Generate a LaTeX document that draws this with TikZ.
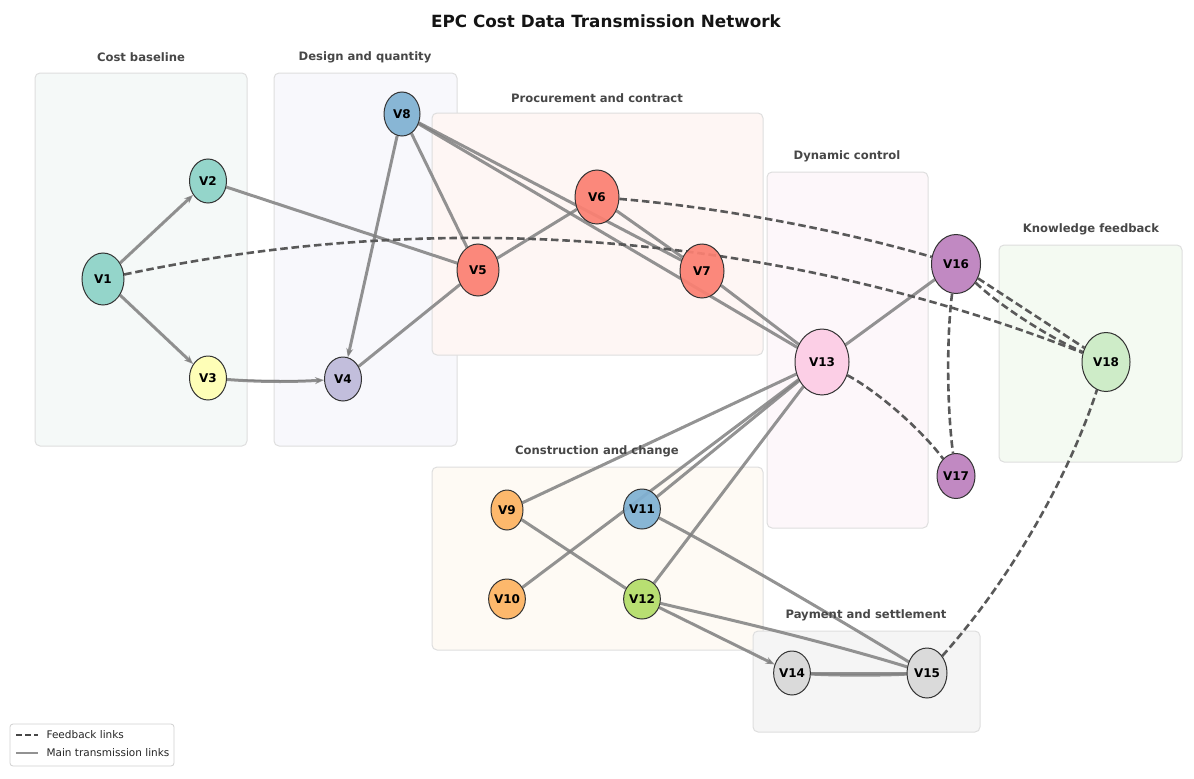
\documentclass[tikz,border=0pt]{standalone}
\usepackage{fontspec}
\setmainfont{DejaVu Sans}
\usetikzlibrary{shapes.geometric,arrows.meta}
\pgfdeclarelayer{boxes}
\pgfdeclarelayer{links}
\pgfsetlayers{boxes,links,main}
\definecolor{cteal}{HTML}{8DD3C7}
\definecolor{cyell}{HTML}{FFFFB3}
\definecolor{clav}{HTML}{BEBADA}
\definecolor{csal}{HTML}{FB8072}
\definecolor{cblue}{HTML}{80B1D3}
\definecolor{corng}{HTML}{FDB462}
\definecolor{cgrn}{HTML}{B3DE69}
\definecolor{cpink}{HTML}{FCCDE5}
\definecolor{cgray}{HTML}{D9D9D9}
\definecolor{cpurp}{HTML}{BC80BD}
\definecolor{clgrn}{HTML}{CCEBC5}
\definecolor{gcost}{HTML}{F5F9F8}
\definecolor{gdes}{HTML}{F8F8FC}
\definecolor{gproc}{HTML}{FEF6F4}
\definecolor{gdyn}{HTML}{FDF7FA}
\definecolor{gknow}{HTML}{F4FAF2}
\definecolor{gcons}{HTML}{FEFAF4}
\definecolor{gpay}{HTML}{F5F5F5}
\begin{document}
\begin{tikzpicture}[x=1pt,y=-1pt,
  vn/.style={ellipse, draw=black!80, line width=1pt, inner sep=0pt,
    font=\bfseries\fontsize{12}{13}\selectfont, fill opacity=0.93, text opacity=1},
  grp/.style={draw=black!13, line width=1pt, rounded corners=5pt},
  glabel/.style={font=\bfseries\fontsize{11.6}{13}\selectfont, text=black!72},
  mainlink/.style={draw=black!50, line width=3pt, draw opacity=0.85},
  fblink/.style={draw=black!65, line width=2.6pt, dash pattern=on 7.5pt off 3.8pt},
  arr/.style={-{Stealth[length=9pt,width=7pt]}, fill=black!50},
  legtext/.style={anchor=west, font=\fontsize{10.5}{12}\selectfont, text=black!85}
]
\useasboundingbox (0,0) rectangle (1194,779);

% title
\node[font=\bfseries\fontsize{16.8}{20}\selectfont, text=black!92] (title) at (606,21) {EPC Cost Data Transmission Network};

% group boxes
\begin{pgfonlayer}{boxes}
\draw[grp, fill=gcost] (35,73) rectangle (247,446);
\draw[grp, fill=gdes] (274,73) rectangle (457,446);
\draw[grp, fill=gproc] (432,113) rectangle (763,355);
\draw[grp, fill=gdyn] (767,172) rectangle (928,528);
\draw[grp, fill=gknow] (999,245) rectangle (1182,462);
\draw[grp, fill=gcons] (432,467) rectangle (763,650);
\draw[grp, fill=gpay] (753,631) rectangle (980,732);
\end{pgfonlayer}

\node[glabel] (Lcost) at (141,57) {Cost baseline};
\node[glabel] (Ldes) at (365,57) {Design and quantity};
\node[glabel] (Lproc) at (597,98) {Procurement and contract};
\node[glabel] (Ldyn) at (847,156) {Dynamic control};
\node[glabel] (Lknow) at (1091,229) {Knowledge feedback};
\node[glabel] (Lcons) at (597,451) {Construction and change};
\node[glabel] (Lpay) at (866,615) {Payment and settlement};

% nodes
\node[vn, fill=cteal, minimum width=42, minimum height=52] (V1) at (103,279) {V1};
\node[vn, fill=cteal, minimum width=37, minimum height=44] (V2) at (208,181) {V2};
\node[vn, fill=cyell, minimum width=37, minimum height=44] (V3) at (208,378) {V3};
\node[vn, fill=clav, minimum width=37, minimum height=44] (V4) at (343,379) {V4};
\node[vn, fill=cblue, minimum width=36, minimum height=44] (V8) at (402,114) {V8};
\node[vn, fill=csal, minimum width=42, minimum height=52] (V5) at (478,270) {V5};
\node[vn, fill=csal, minimum width=44, minimum height=54] (V6) at (597,197) {V6};
\node[vn, fill=csal, minimum width=44, minimum height=54] (V7) at (702,271) {V7};
\node[vn, fill=cpink, minimum width=54, minimum height=66] (V13) at (822,362) {V13};
\node[vn, fill=cpurp, minimum width=49, minimum height=59] (V16) at (956,264) {V16};
\node[vn, fill=cpurp, minimum width=38, minimum height=45] (V17) at (956,476) {V17};
\node[vn, fill=clgrn, minimum width=48, minimum height=59] (V18) at (1106,362) {V18};
\node[vn, fill=corng, minimum width=32, minimum height=40] (V9) at (507,510) {V9};
\node[vn, fill=corng, minimum width=32, minimum height=40] (V10) at (507,599) {V10};
\node[vn, fill=cblue, minimum width=32, minimum height=40] (V11) at (642,509) {V11};
\node[vn, fill=cgrn, minimum width=32, minimum height=40] (V12) at (642,599) {V12};
\node[vn, fill=cgray, minimum width=34, minimum height=44] (V14) at (792,673) {V14};
\node[vn, fill=cgray, minimum width=40, minimum height=50] (V15) at (927,673) {V15};

% links
\begin{pgfonlayer}{links}
\draw[mainlink, arr] (V1) -- (V2);
\draw[mainlink, arr] (V1) -- (V3);
\draw[mainlink, arr] (V3) .. controls (260,382) and (290,382) .. (V4);
\draw[mainlink] (V2) -- (V5);
\draw[mainlink, arr] (V8) -- (V4);
\draw[mainlink] (V8) -- (V5);
\draw[mainlink] (V5) -- (V4);
\draw[mainlink] (V5) -- (V6);
\draw[mainlink] (V8) -- (V7);
\draw[mainlink] (V8) -- (V13);
\draw[mainlink] (V6) -- (V7);
\draw[mainlink] (V7) -- (V13);
\draw[mainlink] (V13) -- (V16);
\draw[mainlink] (V9) -- (V13);
\draw[mainlink] (V10) -- (V13);
\draw[mainlink] (V11) -- (V13);
\draw[mainlink] (V12) -- (V13);
\draw[mainlink] (V9) -- (V12);
\draw[mainlink] (V11) .. controls (730,555) and (840,620) .. (V15);
\draw[mainlink, arr] (V12) -- (V14);
\draw[mainlink] (V12) .. controls (710,615) and (820,640) .. (V15);
\draw[mainlink] (V14) -- (V15);
\draw[mainlink] (V14) .. controls (837,675.5) and (882,675.5) .. (V15);

\draw[fblink] (V1) .. controls (445.7,206.3) and (780,234) .. (V18);
\draw[fblink] (V6) .. controls (718.9,207.3) and (838.6,229.7) .. (V16);
\draw[fblink] (V16) -- (V18);
\draw[fblink] (V16) .. controls (1000,306) and (1050,338) .. (V18);
\draw[fblink] (V13) .. controls (875.3,389.9) and (920,427.9) .. (V17);
\draw[fblink] (V16) .. controls (946.7,334.7) and (946.7,405.3) .. (V17);
\draw[fblink] (V15) .. controls (1008.6,582) and (1068.3,478.3) .. (V18);
\end{pgfonlayer}

% legend
\node[draw=black!18, line width=0.8pt, rounded corners=3pt, fill=white, minimum width=164, minimum height=42, inner sep=0pt] (legend) at (92,745) {};
\coordinate (fa) at (16,735);
\coordinate (fb) at (38,735);
\coordinate (ma) at (16,753);
\coordinate (mb) at (38,753);
\draw[draw=black!72, line width=2pt, dash pattern=on 6pt off 3pt] (fa) -- (fb);
\draw[mainlink, line width=2.4pt] (ma) -- (mb);
\node[legtext] (lf) at (43,735) {Feedback links};
\node[legtext] (lm) at (43,753) {Main transmission links};
\end{tikzpicture}
\end{document}
